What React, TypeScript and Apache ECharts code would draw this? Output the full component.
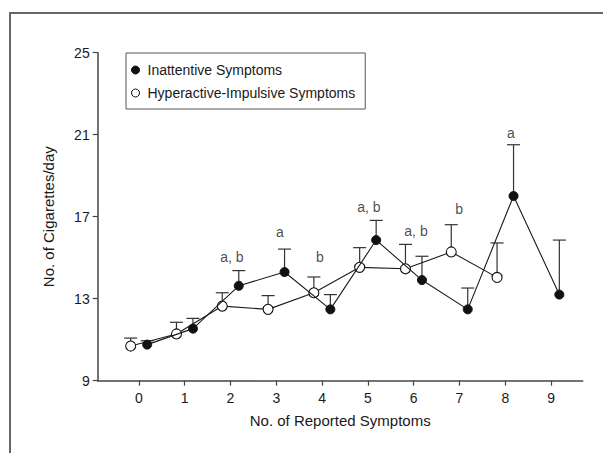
import React, { useEffect, useRef } from "react";
import * as echarts from "echarts";

// ---- data ----
const symptomTicks = [0, 1, 2, 3, 4, 5, 6, 7, 8, 9];
const yTicks = [9, 13, 17, 21, 25];

const inattentiveCounts = [0, 1, 2, 3, 4, 5, 6, 7, 8, 9];
const inattentiveMeans = [10.76, 11.54, 13.63, 14.3, 12.48, 15.86, 13.91, 12.48, 18.01, 13.2];
const inattentiveUpper = [10.95, 12.04, 14.37, 15.42, 13.2, 16.82, 15.07, 13.52, 20.51, 15.86];

const hyperCounts = [0, 1, 2, 3, 4, 5, 6, 7, 8];
const hyperMeans = [10.69, 11.28, 12.64, 12.48, 13.29, 14.53, 14.46, 15.28, 14.04];
const hyperUpper = [11.08, 11.85, 13.29, 13.15, 14.06, 15.49, 15.65, 16.61, 15.72];

const annotationTexts = ["a, b", "a", "b", "a, b", "a, b", "b", "a"];
const annotationX = [2.03, 3.08, 3.95, 5.02, 6.05, 6.99, 8.12];
const annotationY = [15.03, 16.25, 15.03, 17.47, 16.3, 17.37, 21.08];

const seriesNames = ["Inattentive Symptoms", "Hyperactive-Impulsive Symptoms"];

// horizontal dodge of the two groups around each integer count
const DODGE = 0.18;
const FONT = '"Liberation Sans", Arial, Helvetica, sans-serif';
const INK = "#1a1a1a";

export default function App() {
  const ref = useRef<HTMLDivElement>(null);

  useEffect(() => {
    if (!ref.current) return;
    const chart = echarts.init(ref.current, undefined, { renderer: "svg" });

    const inattPts = inattentiveCounts.map((c, i) => [c + DODGE, inattentiveMeans[i]]);
    const hyperPts = hyperCounts.map((c, i) => [c - DODGE, hyperMeans[i]]);
    const inattErr = inattentiveCounts.map((c, i) => [c + DODGE, inattentiveMeans[i], inattentiveUpper[i]]);
    const hyperErr = hyperCounts.map((c, i) => [c - DODGE, hyperMeans[i], hyperUpper[i]]);

    const errRender = (params: any, api: any) => {
      const x = api.value(0);
      const lo = api.coord([x, api.value(1)]);
      const hi = api.coord([x, api.value(2)]);
      const capHalf = 6.5;
      return {
        type: "group",
        children: [
          {
            type: "line",
            shape: { x1: lo[0], y1: lo[1], x2: hi[0], y2: hi[1] },
            style: { stroke: "#333", lineWidth: 1.2 },
          },
          {
            type: "line",
            shape: { x1: hi[0] - capHalf, y1: hi[1], x2: hi[0] + capHalf, y2: hi[1] },
            style: { stroke: "#333", lineWidth: 1.2 },
          },
        ],
      };
    };

    chart.setOption({
      animation: false,
      backgroundColor: "#fff",
      textStyle: { fontFamily: FONT },
      graphic: [
        {
          type: "polyline",
          shape: { points: [[10, 453], [10, 13], [603, 13]] },
          style: { stroke: "#666", lineWidth: 2, fill: null },
          silent: true,
        },
      ],
      legend: {
        show: true,
        left: 126,
        top: 53,
        orient: "vertical",
        icon: "circle",
        itemWidth: 14,
        itemHeight: 8,
        itemGap: 9,
        padding: [10, 10, 9, 5],
        borderColor: "#555",
        borderWidth: 1,
        textStyle: { fontSize: 14, color: INK, fontFamily: FONT },
        data: [
          { name: seriesNames[0], itemStyle: { color: "#111", borderColor: "#111", borderWidth: 1 } },
          { name: seriesNames[1], itemStyle: { color: "#fff", borderColor: "#111", borderWidth: 1 } },
        ],
      },
      grid: { left: 97.7, top: 52.7, width: 485, height: 328, containLabel: false },
      xAxis: {
        type: "value",
        min: -0.9,
        max: 9.69,
        name: "No. of Reported Symptoms",
        nameLocation: "middle",
        nameGap: 32,
        nameTextStyle: { fontSize: 15, color: INK, fontFamily: FONT },
        axisLine: { show: true, onZero: false, lineStyle: { color: "#444", width: 1.5 } },
        axisTick: { show: true, customValues: symptomTicks, length: 5, lineStyle: { color: "#444", width: 1.2 } },
        axisLabel: { show: true, customValues: symptomTicks, margin: 10, fontSize: 14, color: INK, fontFamily: FONT },
        splitLine: { show: false },
      },
      yAxis: {
        type: "value",
        min: 9,
        max: 25,
        name: "No. of Cigarettes/day",
        nameLocation: "middle",
        nameGap: 42,
        nameTextStyle: { fontSize: 15, color: INK, fontFamily: FONT },
        axisLine: { show: true, onZero: false, lineStyle: { color: "#444", width: 1.5 } },
        axisTick: { show: true, customValues: yTicks, length: 5, lineStyle: { color: "#444", width: 1.2 } },
        axisLabel: { show: true, customValues: yTicks, margin: 8, fontSize: 14, color: INK, fontFamily: FONT },
        splitLine: { show: false },
      },
      series: [
        {
          type: "custom",
          name: "inattErr",
          renderItem: errRender,
          data: inattErr,
          encode: { x: 0, y: [1, 2] },
          z: 1,
          silent: true,
        },
        {
          type: "custom",
          name: "hyperErr",
          renderItem: errRender,
          data: hyperErr,
          encode: { x: 0, y: [1, 2] },
          z: 1,
          silent: true,
        },
        {
          type: "line",
          name: seriesNames[1],
          data: hyperPts,
          symbol: "circle",
          symbolSize: 10,
          showSymbol: true,
          lineStyle: { color: INK, width: 1.1 },
          itemStyle: { color: "#fff", borderColor: "#111", borderWidth: 1.1 },
          z: 3,
        },
        {
          type: "line",
          name: seriesNames[0],
          data: inattPts,
          symbol: "circle",
          symbolSize: 9,
          showSymbol: true,
          lineStyle: { color: INK, width: 1.1 },
          itemStyle: { color: "#111", borderColor: "#111", borderWidth: 1 },
          z: 4,
        },
        {
          type: "scatter",
          name: "annotations",
          symbolSize: 1,
          itemStyle: { color: "rgba(0,0,0,0)" },
          silent: true,
          z: 5,
          data: annotationTexts.map((t, i) => ({
            value: [annotationX[i], annotationY[i]],
            label: {
              show: true,
              position: "inside",
              formatter: t,
              fontSize: 14,
              color: INK,
              fontFamily: FONT,
            },
          })),
        },
      ],
    });

    return () => chart.dispose();
  }, []);

  return (
    <div
      ref={ref}
      style={{ position: "fixed", left: 0, top: 0, width: 603, height: 453, background: "#fff" }}
    />
  );
}
